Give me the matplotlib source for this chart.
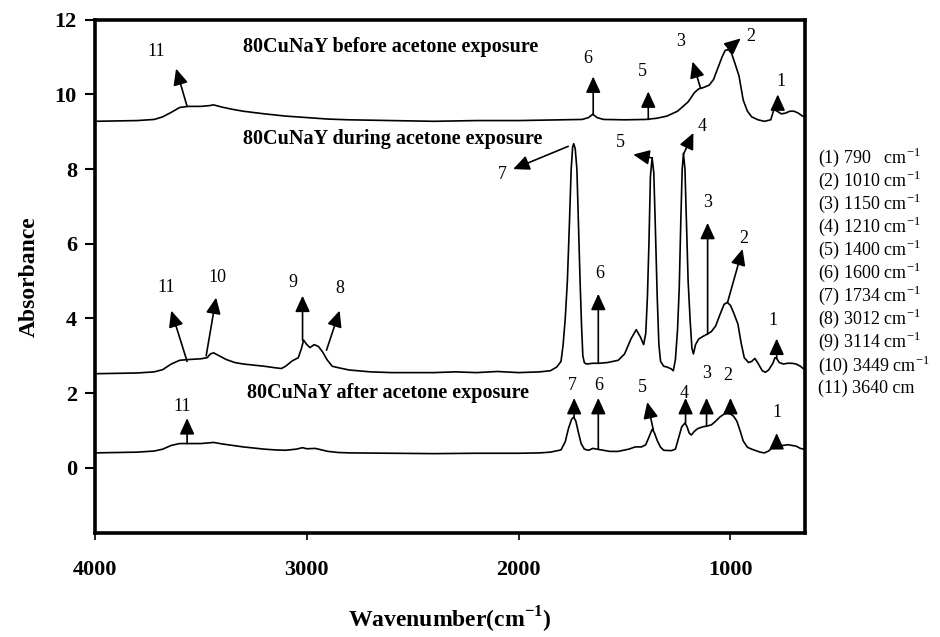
import matplotlib

matplotlib.use("Agg")
import matplotlib.pyplot as plt

plt.rcParams["font.family"] = ["Liberation Serif", "DejaVu Serif"]
plt.rcParams["mathtext.fontset"] = "custom"
plt.rcParams["mathtext.rm"] = "Liberation Serif"
plt.rcParams["mathtext.bf"] = "Liberation Serif:bold"

# ── traced spectra (wavenumber cm-1, absorbance) ─────────────────────────────
wn_before = [4000, 3800, 3720, 3680, 3640, 3600, 3560, 3500, 3460, 3440, 3400, 3350,
             3300, 3200, 3100, 3000, 2900, 2800, 2600, 2400, 2200, 2000, 1800, 1700,
             1670, 1650, 1630, 1600, 1500, 1400, 1350, 1300, 1250, 1200, 1170, 1150,
             1130, 1100, 1080, 1060, 1040, 1025, 1010, 995, 980, 960, 940, 920, 900,
             870, 840, 810, 795, 780, 760, 740, 720, 700, 680, 660, 650]
abs_before = [9.28, 9.30, 9.33, 9.40, 9.52, 9.65, 9.68, 9.68, 9.70, 9.72, 9.66, 9.60,
              9.55, 9.48, 9.42, 9.38, 9.34, 9.32, 9.30, 9.28, 9.30, 9.30, 9.32, 9.33,
              9.38, 9.47, 9.38, 9.33, 9.32, 9.33, 9.36, 9.42, 9.55, 9.80, 10.05, 10.15,
              10.18, 10.25, 10.40, 10.70, 11.00, 11.18, 11.20, 11.10, 10.85, 10.50, 9.85,
              9.55, 9.40, 9.32, 9.28, 9.32, 9.60, 9.55, 9.48, 9.50, 9.55, 9.55, 9.50,
              9.42, 9.40]

wn_during = [4000, 3800, 3720, 3680, 3640, 3600, 3560, 3500, 3470, 3455, 3440, 3420,
             3380, 3340, 3300, 3200, 3150, 3120, 3100, 3070, 3040, 3025, 3015, 3000,
             2985, 2965, 2945, 2925, 2905, 2880, 2850, 2800, 2700, 2600, 2400, 2300,
             2200, 2100, 2000, 1900, 1850, 1820, 1800, 1790, 1780, 1770, 1760, 1752,
             1745, 1740, 1733, 1725, 1718, 1710, 1703, 1697, 1690, 1680, 1650, 1620,
             1580, 1530, 1500, 1470, 1445, 1425, 1410, 1400, 1392, 1385, 1378, 1370,
             1362, 1354, 1346, 1338, 1330, 1315, 1300, 1280, 1270, 1260, 1250, 1242,
             1235, 1228, 1222, 1215, 1208, 1200, 1190, 1182, 1175, 1165, 1150, 1130,
             1110, 1090, 1070, 1050, 1030, 1015, 1000, 985, 965, 950, 935, 915, 900,
             885, 870, 850, 835, 820, 800, 790, 782, 770, 750, 730, 710, 690, 670, 655,
             650]
abs_during = [2.52, 2.54, 2.57, 2.63, 2.78, 2.88, 2.90, 2.92, 2.95, 3.05, 3.08, 3.02,
              2.90, 2.82, 2.78, 2.72, 2.68, 2.66, 2.72, 2.86, 2.95, 3.20, 3.42, 3.30,
              3.22, 3.30, 3.25, 3.10, 2.90, 2.72, 2.68, 2.62, 2.57, 2.55, 2.55, 2.57,
              2.55, 2.58, 2.55, 2.57, 2.60, 2.70, 2.85, 3.30, 4.00, 5.00, 6.60, 8.00,
              8.60, 8.68, 8.55, 8.00, 6.60, 5.00, 3.80, 3.00, 2.82, 2.78, 2.80, 2.80,
              2.82, 2.88, 3.05, 3.45, 3.70, 3.50, 3.30, 3.60, 4.60, 6.00, 7.80, 8.30,
              7.90, 6.30, 4.60, 3.30, 2.85, 2.72, 2.70, 2.65, 2.60, 2.90, 3.70, 4.80,
              6.50, 8.00, 8.42, 8.00, 6.60, 5.00, 3.90, 3.20, 3.05, 3.30, 3.45, 3.52,
              3.58, 3.65, 3.80, 4.10, 4.38, 4.43, 4.35, 4.15, 3.85, 3.35, 2.95, 2.82,
              2.85, 2.93, 2.80, 2.60, 2.56, 2.62, 2.80, 2.95, 2.93, 2.82, 2.78, 2.80,
              2.80, 2.78, 2.72, 2.65, 2.63]

wn_after = [4000, 3800, 3720, 3680, 3640, 3600, 3560, 3500, 3460, 3440, 3400, 3350,
            3300, 3250, 3200, 3150, 3100, 3050, 3020, 3000, 2960, 2930, 2900, 2850,
            2800, 2600, 2400, 2200, 2000, 1900, 1850, 1800, 1780, 1765, 1750, 1740,
            1730, 1718, 1705, 1690, 1670, 1650, 1630, 1600, 1570, 1530, 1480, 1450,
            1420, 1400, 1385, 1370, 1360, 1345, 1330, 1315, 1280, 1260, 1245, 1230,
            1215, 1205, 1195, 1185, 1170, 1155, 1130, 1110, 1090, 1070, 1050, 1030,
            1015, 1000, 985, 970, 955, 940, 920, 900, 880, 860, 840, 820, 800, 790,
            780, 765, 750, 730, 710, 690, 670, 655, 650]
abs_after = [0.40, 0.42, 0.45, 0.50, 0.60, 0.65, 0.65, 0.65, 0.67, 0.68, 0.64, 0.60,
             0.56, 0.53, 0.50, 0.48, 0.47, 0.50, 0.54, 0.51, 0.52, 0.48, 0.44, 0.41,
             0.40, 0.39, 0.38, 0.39, 0.39, 0.40, 0.42, 0.48, 0.70, 1.05, 1.30, 1.36,
             1.25, 0.95, 0.65, 0.50, 0.47, 0.52, 0.50, 0.47, 0.44, 0.44, 0.50, 0.56,
             0.56, 0.62, 0.82, 1.03, 0.95, 0.72, 0.55, 0.47, 0.46, 0.50, 0.80, 1.10,
             1.20, 1.10, 0.93, 0.88, 0.98, 1.05, 1.10, 1.12, 1.15, 1.25, 1.36, 1.44,
             1.46, 1.44, 1.38, 1.25, 1.00, 0.72, 0.55, 0.50, 0.46, 0.42, 0.40, 0.45,
             0.55, 0.67, 0.65, 0.60, 0.60, 0.62, 0.60, 0.58, 0.52, 0.50, 0.50]

curve_titles = ["80CuNaY before acetone exposure",
                "80CuNaY during acetone exposure",
                "80CuNaY after acetone exposure"]

band_ids = ["1", "2", "3", "4", "5", "6", "7", "8", "9", "10", "11"]
band_wn = ["790  ", "1010", "1150", "1210", "1400", "1600", "1734", "3012", "3114",
           "3449", "3640"]

# arrows: (label, tail x, tail y, tip x, tip y, label x, label y)
arrows_before = [
    ("11", 3565, 9.68, 3617, 10.69, 3711, 11.15),
    ("6", 1648, 9.45, 1648, 10.48, 1672, 10.96),
    ("5", 1388, 9.33, 1388, 10.08, 1416, 10.61),
    ("3", 1141, 10.16, 1179, 10.88, 1236, 11.41),
    ("2", 1014, 11.20, 952, 11.50, 905, 11.55),
    ("1", 777, 9.60, 777, 10.00, 763, 10.35),
]
arrows_during = [
    ("11", 3565, 2.85, 3640, 4.21, 3664, 4.83),
    ("10", 3475, 3.00, 3428, 4.56, 3423, 5.09),
    ("9", 3020, 3.41, 3020, 4.61, 3068, 4.96),
    ("8", 2907, 3.15, 2845, 4.21, 2845, 4.80),
    ("7", 1766, 8.61, 2026, 8.00, 2079, 7.86),
    ("6", 1624, 2.80, 1624, 4.66, 1615, 5.20),
    ("5", 1369, 8.30, 1459, 8.39, 1520, 8.70),
    ("4", 1222, 8.40, 1175, 8.97, 1132, 9.15),
    ("3", 1108, 3.58, 1108, 6.56, 1108, 7.10),
    ("2", 1014, 4.43, 943, 5.86, 938, 6.13),
    ("1", 782, 2.93, 782, 3.46, 800, 3.95),
]
arrows_after = [
    ("11", 3565, 0.65, 3565, 1.33, 3588, 1.63),
    ("7", 1738, 1.36, 1738, 1.87, 1747, 2.21),
    ("6", 1624, 0.50, 1624, 1.87, 1620, 2.20),
    ("5", 1364, 1.01, 1393, 1.76, 1416, 2.16),
    ("4", 1212, 1.20, 1212, 1.87, 1217, 2.00),
    ("3", 1113, 1.12, 1113, 1.87, 1113, 2.53),
    ("2", 1000, 1.46, 1000, 1.87, 1014, 2.48),
    ("1", 782, 0.67, 782, 0.93, 782, 1.47),
]

fig = plt.figure(figsize=(9.4, 6.37), dpi=100)
ax = fig.add_axes([0.101, 0.163, 0.755, 0.806])

for wn, ab in [(wn_before, abs_before), (wn_during, abs_during), (wn_after, abs_after)]:
    ax.plot(wn, ab, color="black", lw=1.2)

for arrows in (arrows_before, arrows_during, arrows_after):
    for lab, x0, y0, x1, y1, tx, ty in arrows:
        ax.annotate("", xy=(x1, y1), xytext=(x0, y0),
                    arrowprops=dict(arrowstyle="-|>,head_length=0.7,head_width=0.32",
                                    mutation_scale=14, color="black", lw=1.2,
                                    shrinkA=0, shrinkB=0))
        ax.text(tx, ty, lab, fontsize=13, ha="center", va="center")

for title, x, y in zip(curve_titles, [3300, 3300, 3280], [11.28, 8.8, 2.0]):
    ax.text(x, y, title, fontsize=14.5, fontweight="bold", ha="left", va="center")

ax.set_xlim(4000, 650)
ax.set_ylim(-1.75, 12)
ax.set_xticks([4000, 3000, 2000, 1000])
ax.set_yticks([0, 2, 4, 6, 8, 10, 12])
for lbl in ax.get_xticklabels() + ax.get_yticklabels():
    lbl.set_fontweight("bold")
ax.tick_params(axis="y", direction="out", length=7, width=1.5, pad=6, labelsize=16)
ax.tick_params(axis="x", direction="out", length=5, width=1.2, pad=14, labelsize=16)
for sp in ax.spines.values():
    sp.set_linewidth(2.6)

ax.set_ylabel("Absorbance", fontsize=17, fontweight="bold", labelpad=11)
ax.set_xlabel("Wavenumber(cm$^{\\mathbf{-1}}$)", fontsize=17, fontweight="bold",
              labelpad=18)

# band list to the right of the frame
for i, (bid, w) in enumerate(zip(band_ids, band_wn)):
    y = 1 - (157 + i * 23.1) / 637
    txt = f"({bid}) {w} cm$^{{\\mathrm{{-1}}}}$" if bid != "11" else f"({bid}) {w} cm"
    fig.text(818 / 940, y, txt, fontsize=13, ha="left", va="center")

fig.savefig("out.png", dpi=100)
